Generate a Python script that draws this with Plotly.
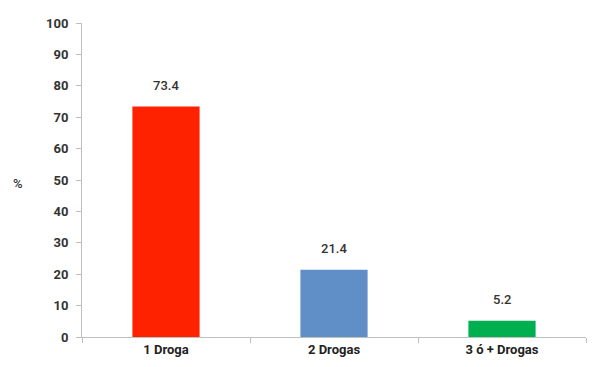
import plotly.graph_objects as go

categories = ["1 Droga", "2 Drogas", "3 ó + Drogas"]
values = [73.4, 21.4, 5.2]
colors = ["#FF2200", "#5F8FC6", "#00B050"]
y_ticks = list(range(0, 101, 10))

font_family = "Roboto, Arial"

fig = go.Figure()
fig.add_trace(go.Bar(x=categories, y=values, marker=dict(color=colors, line=dict(width=0)),
                     width=0.4, hoverinfo="skip"))

for c, v in zip(categories, values):
    fig.add_annotation(x=c, y=v, text=f"{v:.1f}", showarrow=False, yanchor="bottom", yshift=12,
                       font=dict(size=13, color="#333333", family=font_family, weight=500))

fig.add_annotation(x=-0.14, y=0.49, xref="paper", yref="paper", text="%", showarrow=False,
                   font=dict(size=13, color="#333333", family=font_family, weight=500))

fig.update_layout(
    width=594, height=367,
    margin=dict(l=82, r=8, t=23, b=30),
    plot_bgcolor="white", paper_bgcolor="white",
    showlegend=False,
    xaxis=dict(showline=True, linecolor="#BFBFBF", linewidth=1, ticks="outside", ticklen=5,
               tickcolor="#BFBFBF", tickson="boundaries", showgrid=False,
               tickfont=dict(size=13, color="#222222", family=font_family, weight="bold")),
    yaxis=dict(range=[0, 100], tickvals=y_ticks, showline=True, linecolor="#BFBFBF", linewidth=1,
               ticks="outside", ticklen=5, tickcolor="#BFBFBF", showgrid=False, zeroline=False,
               ticklabelstandoff=5,
               tickfont=dict(size=13, color="#333333", family=font_family, weight="bold")),
)

fig.write_html("out.html")
